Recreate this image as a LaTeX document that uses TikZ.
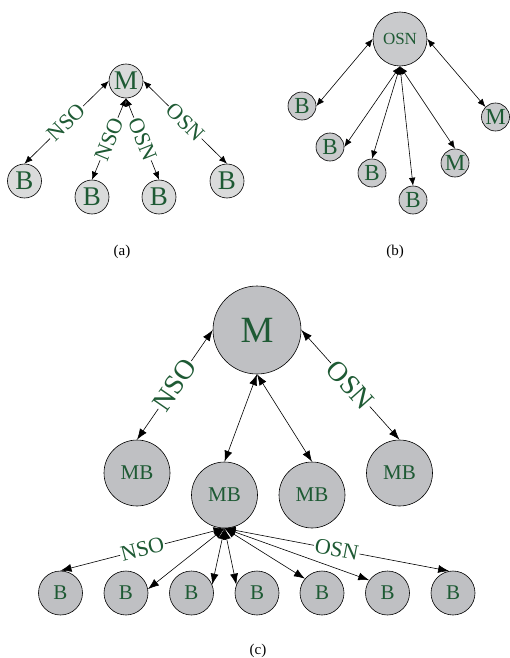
\documentclass[tikz,border=0pt]{standalone}
\usepackage{fontspec}
\setmainfont{Liberation Serif}
\usetikzlibrary{arrows.meta}
\definecolor{leafgreen}{HTML}{1E5A34}
\definecolor{fillA}{HTML}{DADBDB}
\definecolor{fillB}{HTML}{C9CACC}
\definecolor{fillC}{HTML}{BFC0C3}

\begin{document}
\begin{tikzpicture}[
    x=1pt, y=1pt,
    peer/.style={circle, draw, line width=0.6pt, inner sep=0pt, text=leafgreen},
    peerA/.style={peer, fill=fillA, minimum size=34pt, font=\fontsize{27}{27}\selectfont},
    peerB/.style={peer, fill=fillB, minimum size=28pt, font=\fontsize{23}{23}\selectfont},
    peerC/.style={peer, fill=fillC, minimum size=44pt, font=\fontsize{21}{21}\selectfont},
    link/.style={<->, >={Latex[length=8pt,width=6.5pt]}, line width=0.6pt},
    bigLink/.style={<->, >={Latex[length=11pt,width=8pt]}, line width=0.6pt},
    tag/.style={fill=white, inner sep=1pt, sloped, text=leafgreen},
    caption/.style={font=\fontsize{15}{15}\selectfont}
]
\useasboundingbox (0,0) rectangle (509,-658);

% --- (a) ---
\node[peerA] (hubA) at (126,-81) {M};
\node[peerA] (a1) at (24.5,-181) {B};
\node[peerA] (a2) at (92,-197) {B};
\node[peerA] (a3) at (159,-197) {B};
\node[peerA] (a4) at (227,-181) {B};

\draw[link] (hubA.west) -- node[tag, font=\fontsize{22}{22}\selectfont] (tagA1) {NSO} (a1.north);
\draw[link] (hubA.south) -- node[tag, font=\fontsize{22}{22}\selectfont] (tagA2) {NSO} (a2.north);
\draw[link] (hubA.south) -- node[tag, font=\fontsize{22}{22}\selectfont] (tagA3) {OSN} (a3.north);
\draw[link] (hubA.east) -- node[tag, font=\fontsize{22}{22}\selectfont] (tagA4) {OSN} (a4.north);

\node[caption] (capA) at (122,-252) {(a)};

% --- (b) ---
\node[peerB, minimum size=54pt, font=\fontsize{17}{17}\selectfont] (hubB) at (400,-39) {OSN};
\node[peerB] (b1) at (302,-106) {B};
\node[peerB] (b2) at (330,-147) {B};
\node[peerB] (b3) at (372,-173) {B};
\node[peerB] (b4) at (413,-200) {B};
\node[peerB] (b5) at (455,-163) {M};
\node[peerB] (b6) at (495.5,-117) {M};

\draw[link] (hubB.west) -- (b1.east);
\draw[link] (hubB.south) -- (b2.east);
\draw[link] (hubB.south) -- (b3.north);
\draw[link] (hubB.south) -- (b4.north);
\draw[link] (hubB.south) -- (b5.north);
\draw[link] (hubB.east) -- (b6.135);

\node[caption] (capB) at (395,-252) {(b)};

% --- (c) ---
\node[peerC, minimum size=88pt, font=\fontsize{37}{37}\selectfont] (hubC) at (257,-330) {M};
\node[peerC, minimum size=66pt] (mb1) at (137,-473) {MB};
\node[peerC, minimum size=66pt] (mb2) at (224.5,-495) {MB};
\node[peerC, minimum size=66pt] (mb3) at (312,-495) {MB};
\node[peerC, minimum size=66pt] (mb4) at (399.5,-473) {MB};

\draw[bigLink] (hubC.west) -- node[tag, font=\fontsize{28}{28}\selectfont] (tagC1) {NSO} (mb1.north);
\draw[bigLink] (hubC.south) -- (mb2.north);
\draw[bigLink] (hubC.south) -- (mb3.north);
\draw[bigLink] (hubC.east) -- node[tag, font=\fontsize{28}{28}\selectfont] (tagC2) {OSN} (mb4.north);

% bottom row
\foreach \i/\x in {1/60.5, 2/126, 3/191.5, 4/257, 5/322, 6/387.5, 7/453}
    \node[peerC] (c\i) at (\x,-593) {B};

\draw[bigLink] (mb2.south) -- node[tag, font=\fontsize{22}{22}\selectfont] (tagC3) {NSO} (c1.north);
\draw[bigLink] (mb2.south) -- (c2.10);
\draw[bigLink] (mb2.south) -- (c3.22);
\draw[bigLink] (mb2.south) -- (c4.158);
\draw[bigLink] (mb2.south) -- (c5.140);
\draw[bigLink] (mb2.south) -- (c6.145);
\draw[bigLink] (mb2.south) -- node[tag, font=\fontsize{22}{22}\selectfont] (tagC4) {OSN} (c7.100);

\node[caption] (capC) at (258,-651) {(c)};

\end{tikzpicture}
\end{document}
